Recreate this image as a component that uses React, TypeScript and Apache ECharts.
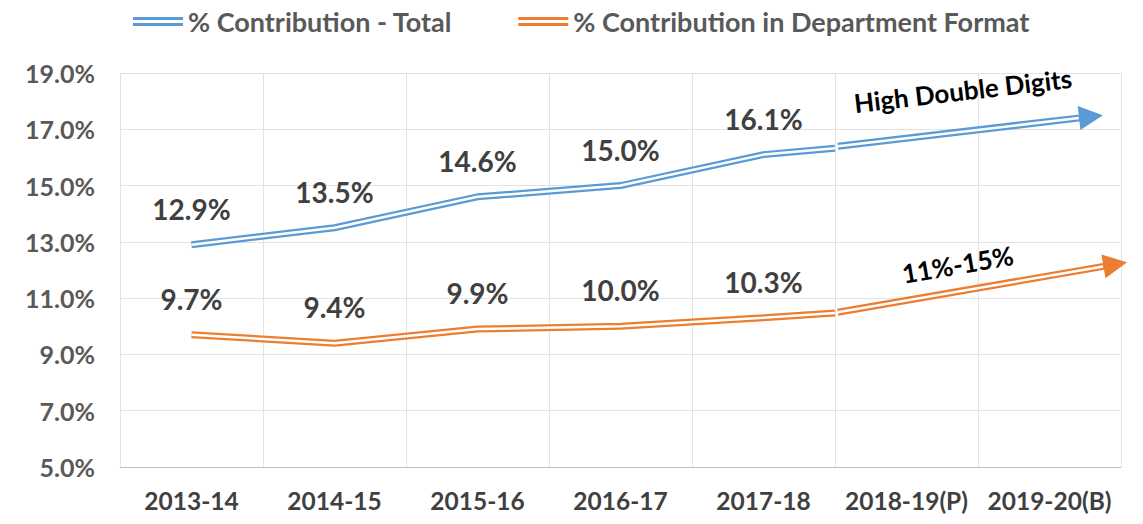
import React, { useEffect, useRef } from 'react';
import * as echarts from 'echarts';

const categories = ['2013-14', '2014-15', '2015-16', '2016-17', '2017-18', '2018-19(P)', '2019-20(B)'];
const totalName = '% Contribution - Total';
const deptName = '% Contribution in Department Format';
const totalValues = [12.9, 13.5, 14.6, 15.0, 16.1];
const deptValues = [9.7, 9.4, 9.9, 10.0, 10.3];
const totalTail = [4.5, 16.33];
const deptTail = [4.5, 10.47];
const totalArrow = [[4.52, 16.4], [6.29, 17.45]];
const deptArrow = [[4.52, 10.5], [6.46, 12.2]];
const totalArrowText = 'High Double Digits';
const deptArrowText = '11%-15%';
const yMin = 5;
const yMax = 19;
const yStep = 2;

const BLUE = '#5B9BD5';
const ORANGE = '#ED7D31';
const FONT = 'Lato';

function dataSeries(name: string, values: number[], tail: number[], color: string) {
  const data: any[] = values.map((v, i) => ({ value: [i, v], label: { show: true } }));
  data.push({ value: tail, label: { show: false } });
  return [
    {
      name,
      type: 'line',
      xAxisIndex: 1,
      data,
      symbol: 'circle',
      symbolSize: 0,
      showSymbol: true,
      lineStyle: { color, width: 7 },
      itemStyle: { color },
      z: 3,
      label: {
        show: true,
        position: 'top',
        distance: 22,
        fontSize: 28,
        fontWeight: 'bold',
        fontFamily: FONT,
        color: '#404040',
        formatter: (p: any) => p.value[1].toFixed(1) + '%',
      },
    },
    {
      type: 'line',
      xAxisIndex: 1,
      data: data.map((d) => d.value),
      symbol: 'none',
      silent: true,
      lineStyle: { color: '#ffffff', width: 2.5 },
      z: 4,
    },
  ];
}

function arrowSeries(arrow: number[][], text: string, color: string, dist: number, offset: number[]) {
  const [a, b] = arrow;
  const slope = (b[1] - a[1]) / (b[0] - a[0]);
  const innerEndX = b[0] - 0.085;
  const innerEnd = [innerEndX, a[1] + slope * (innerEndX - a[0])];
  return {
    type: 'line',
    xAxisIndex: 1,
    data: [],
    clip: false,
    z: 5,
    markLine: {
      silent: true,
      animation: false,
      symbolSize: [24, 24],
      data: [
        [
          {
            coord: a,
            symbol: 'none',
            lineStyle: { color, width: 7, type: 'solid' },
            label: {
              show: true,
              position: 'middle',
              distance: dist,
              offset,
              formatter: text,
              fontSize: 26,
              fontWeight: 'bold',
              fontFamily: FONT,
              color: '#000000',
            },
          },
          { coord: b, symbol: 'triangle' },
        ],
        [
          {
            coord: a,
            symbol: 'none',
            lineStyle: { color: '#ffffff', width: 2.5, type: 'solid' },
            label: { show: false },
          },
          { coord: innerEnd, symbol: 'none' },
        ],
      ],
      itemStyle: { color },
    },
  };
}

export default function App() {
  const ref = useRef<HTMLDivElement>(null);
  useEffect(() => {
    document.body.style.margin = '0';
    const chart = echarts.init(ref.current!, null, { renderer: 'svg' });
    const legendIcon = 'path://M0,0L50,0L50,3L0,3Z M0,6L50,6L50,9L0,9Z';
    chart.setOption({
      animation: false,
      backgroundColor: '#ffffff',
      legend: {
        data: [
          { name: totalName, icon: legendIcon },
          { name: deptName, icon: legendIcon },
        ],
        top: 3,
        left: 128,
        itemWidth: 50,
        itemHeight: 9,
        itemGap: 66,
        textStyle: { fontSize: 27, fontWeight: 'bold', fontFamily: FONT, color: '#595959' },
      },
      grid: { left: 120, right: 22, top: 73, bottom: 57, containLabel: false },
      xAxis: [
        {
          type: 'category',
          data: categories,
          boundaryGap: true,
          axisTick: { show: false },
          axisLine: { show: true, lineStyle: { color: '#bfbfbf', width: 1 } },
          axisLabel: {
            interval: 0,
            margin: 21,
            fontSize: 24.5,
            fontWeight: 'bold',
            fontFamily: FONT,
            color: '#404040',
          },
          splitLine: { show: true, interval: 0, lineStyle: { color: '#e3e3e3', width: 1 } },
        },
        { type: 'value', min: -0.5, max: 6.5, show: false },
      ],
      yAxis: {
        type: 'value',
        min: yMin,
        max: yMax,
        interval: yStep,
        axisLine: { show: false },
        axisTick: { show: false },
        axisLabel: {
          margin: 25,
          fontSize: 25,
          fontWeight: 'bold',
          fontFamily: FONT,
          color: '#595959',
          formatter: (v: number) => v.toFixed(1) + '%',
        },
        splitLine: { show: true, lineStyle: { color: '#e3e3e3', width: 1 } },
      },
      series: [
        ...dataSeries(totalName, totalValues, totalTail, BLUE),
        ...dataSeries(deptName, deptValues, deptTail, ORANGE),
        arrowSeries(totalArrow, totalArrowText, BLUE, 28, [0, 0]),
        arrowSeries(deptArrow, deptArrowText, ORANGE, 14, [-17, 0]),
      ],
    });
    return () => chart.dispose();
  }, []);
  return <div ref={ref} style={{ width: 1143, height: 524 }} />;
}
